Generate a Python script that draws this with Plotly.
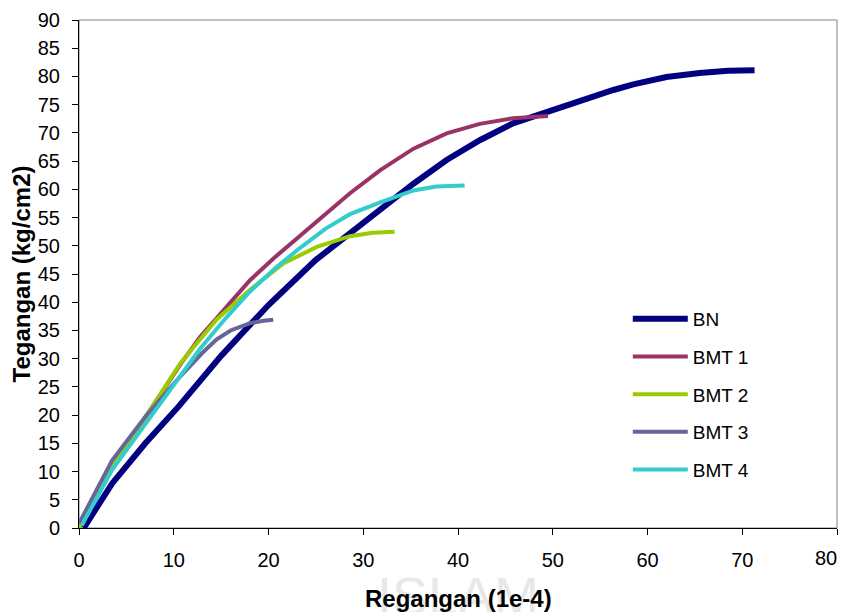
import plotly.graph_objects as go

# Regangan (1e-4) vs Tegangan (kg/cm2)
bn_x = [0.5, 3.5, 7.0, 10.5, 15.0, 20.0, 25.0, 28.6, 31.8, 35.3, 38.8, 42.3, 45.8, 49.4, 52.9, 56.4, 58.5, 62.0, 65.5, 68.5, 71.3]
bn_y = [0.0, 7.9, 15.0, 21.5, 30.5, 39.5, 47.5, 52.2, 56.2, 61.0, 65.2, 68.7, 71.7, 73.7, 75.8, 77.6, 78.6, 79.9, 80.6, 81.0, 81.1]

bmt1_x = [0.0, 3.5, 7.0, 10.7, 12.8, 15.5, 18.05, 20.7, 23.3, 26.0, 28.6, 31.8, 35.3, 38.8, 42.3, 45.8, 49.5]
bmt1_y = [0.0, 11.0, 19.6, 29.0, 33.9, 39.0, 43.9, 48.0, 51.8, 55.6, 59.3, 63.4, 67.2, 69.9, 71.6, 72.6, 73.0]

bmt2_x = [0.0, 3.5, 7.0, 10.7, 14.5, 18.05, 21.6, 25.1, 28.6, 31.0, 33.3]
bmt2_y = [0.0, 11.0, 19.6, 29.2, 36.9, 42.2, 46.9, 49.8, 51.7, 52.3, 52.5]

bmt3_x = [0.0, 3.5, 7.0, 10.55, 13.0, 14.5, 16.0, 18.05, 19.5, 20.5]
bmt3_y = [0.8, 12.0, 19.7, 26.6, 31.0, 33.4, 35.0, 36.3, 36.7, 36.9]

bmt4_x = [0.3, 3.5, 7.0, 10.55, 12.8, 15.5, 18.05, 20.7, 23.3, 26.0, 28.6, 31.8, 35.3, 37.7, 40.7]
bmt4_y = [0.5, 10.3, 18.4, 26.6, 31.8, 37.2, 41.9, 46.0, 49.6, 53.0, 55.6, 57.7, 59.8, 60.5, 60.7]

names = ["BN", "BMT 1", "BMT 2", "BMT 3", "BMT 4"]
colors = ["#000080", "#993366", "#99CC00", "#666699", "#33CCCC"]
widths = [6, 4, 4, 4, 4]
xs = [bn_x, bmt1_x, bmt2_x, bmt3_x, bmt4_x]
ys = [bn_y, bmt1_y, bmt2_y, bmt3_y, bmt4_y]

x_ticks = [0, 10, 20, 30, 40, 50, 60, 70, 80]

fig = go.Figure()
for name, c, w, x, y in zip(names, colors, widths, xs, ys):
    fig.add_trace(go.Scatter(x=x, y=y, mode="lines", name=name, legendgroup=name,
                             line=dict(color=c, width=w)))

# the page body has an 8px margin, so the figure is made 8px smaller each way
fig.update_layout(
    width=843, height=604,
    margin=dict(l=71, r=14, t=12, b=84),
    paper_bgcolor="white", plot_bgcolor="white",
    font=dict(family="Liberation Sans, Arial", size=19, color="black"),
    showlegend=True,
    legend=dict(x=0.724, y=0.449, xanchor="left", yanchor="top",
                bgcolor="rgba(0,0,0,0)", tracegroupgap=10, itemwidth=55,
                font=dict(size=19)),
    shapes=[dict(type="rect", xref="paper", yref="paper", x0=0, y0=0, x1=1, y1=1,
                 line=dict(color="#808080", width=1), layer="below")],
    annotations=[
        dict(text="ISLAM", x=0.5, y=-0.07, xref="paper", yref="paper", showarrow=False,
             font=dict(size=54, color="#e8e8e8", family="Liberation Sans, Arial"),
             xanchor="center", yanchor="top"),
        # last tick label sits a little to the left, as in the original
        dict(text="80", x=80, y=0, xref="x", yref="paper", showarrow=False,
             xshift=-11, yshift=-30, font=dict(size=20), xanchor="center", yanchor="middle"),
        dict(text="<b>Regangan (1e-4)</b>", x=0.5, y=-0.138, xref="paper", yref="paper",
             showarrow=False, font=dict(size=24), xanchor="center", yanchor="middle"),
    ],
)

fig.update_xaxes(range=[0, 80], tickvals=x_ticks,
                 ticktext=[str(v) if v != 80 else " " for v in x_ticks],
                 showgrid=False, zeroline=False,
                 showline=True, linecolor="black", linewidth=1, automargin=False,
                 ticks="outside", ticklen=6, tickcolor="black",
                 ticklabelstandoff=8, tickfont=dict(size=20))
fig.update_yaxes(range=[0, 90], dtick=5, tick0=0, showgrid=False, zeroline=False,
                 showline=True, linecolor="black", linewidth=1, automargin=False,
                 ticks="outside", ticklen=6, tickcolor="black",
                 ticklabelstandoff=8, tickfont=dict(size=20),
                 title=dict(text="<b>Tegangan (kg/cm2)</b>", font=dict(size=24), standoff=2))

fig.write_html("out.html")
